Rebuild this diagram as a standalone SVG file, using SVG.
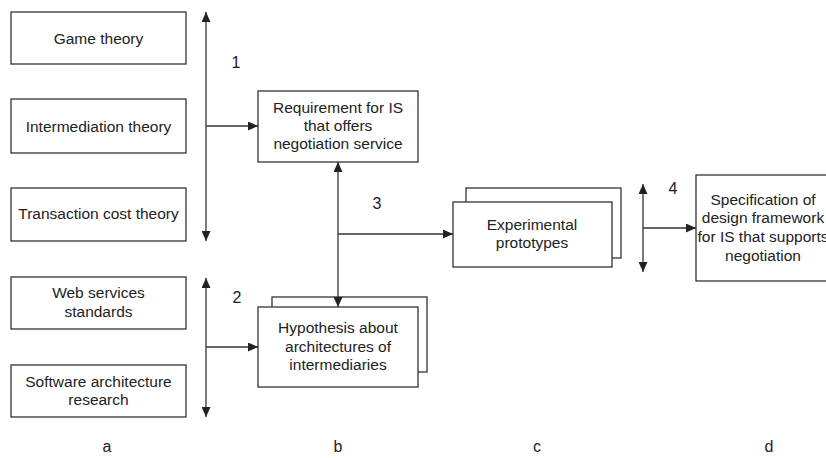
<svg xmlns="http://www.w3.org/2000/svg" width="826" height="458" viewBox="0 0 826 458">
  <style>
    .box { fill: #fff; stroke: #333; stroke-width: 1.3; }
    .line { fill: none; stroke: #333; stroke-width: 1.3; }
    text { font-family: "Liberation Sans", Arial, sans-serif; font-size: 15.5px; fill: #222; text-anchor: middle; }
    .num { font-size: 16px; }
  </style>
  <defs>
    <marker id="arrow" viewBox="0 0 10 10" refX="10" refY="5" markerWidth="10" markerHeight="9" markerUnits="userSpaceOnUse" orient="auto-start-reverse" preserveAspectRatio="none">
      <path d="M0,0 L10,5 L0,10 Z" fill="#222"/>
    </marker>
  </defs>
  <rect width="826" height="458" fill="#fff"/>

  <g id="game-theory">
    <rect class="box" x="11" y="12" width="175" height="52"/>
    <text x="98.5" y="43.5">Game theory</text>
  </g>
  <g id="intermediation-theory">
    <rect class="box" x="11" y="99" width="175" height="54"/>
    <text x="98.5" y="131.5">Intermediation theory</text>
  </g>
  <g id="transaction-cost-theory">
    <rect class="box" x="11" y="188" width="175" height="53"/>
    <text x="98.5" y="219">Transaction cost theory</text>
  </g>
  <g id="web-services-standards">
    <rect class="box" x="11" y="277" width="175" height="52"/>
    <text x="98.5" y="298">Web services</text>
    <text x="98.5" y="317">standards</text>
  </g>
  <g id="software-architecture-research">
    <rect class="box" x="11" y="365" width="175" height="52"/>
    <text x="98.5" y="387">Software architecture</text>
    <text x="98.5" y="405">research</text>
  </g>

  <g id="requirement">
    <rect class="box" x="258" y="91" width="160" height="71"/>
    <text x="338" y="113">Requirement for IS</text>
    <text x="338" y="131">that offers</text>
    <text x="338" y="149">negotiation service</text>
  </g>
  <g id="hypothesis">
    <rect class="box" x="272" y="297" width="155" height="75"/>
    <rect class="box" x="258" y="307" width="160" height="80"/>
    <text x="338" y="333">Hypothesis about</text>
    <text x="338" y="352">architectures of</text>
    <text x="338" y="370">intermediaries</text>
  </g>
  <g id="experimental-prototypes">
    <rect class="box" x="466" y="188" width="155" height="70"/>
    <rect class="box" x="453" y="202" width="159" height="65"/>
    <text x="532" y="230">Experimental</text>
    <text x="532" y="248">prototypes</text>
  </g>
  <g id="specification">
    <rect class="box" x="696" y="175" width="200" height="106"/>
    <text x="763" y="205">Specification of</text>
    <text x="763" y="223">design framework</text>
    <text x="763" y="242">for IS that supports</text>
    <text x="763" y="261">negotiation</text>
  </g>

  <g id="connectors">
    <line class="line" x1="206" y1="12" x2="206" y2="241" marker-start="url(#arrow)" marker-end="url(#arrow)"/>
    <line class="line" x1="206" y1="126" x2="258" y2="126" marker-end="url(#arrow)"/>
    <line class="line" x1="206" y1="278" x2="206" y2="417" marker-start="url(#arrow)" marker-end="url(#arrow)"/>
    <line class="line" x1="206" y1="347" x2="258" y2="347" marker-end="url(#arrow)"/>
    <line class="line" x1="338" y1="162" x2="338" y2="307" marker-start="url(#arrow)" marker-end="url(#arrow)"/>
    <line class="line" x1="338" y1="234" x2="453" y2="234" marker-end="url(#arrow)"/>
    <line class="line" x1="643" y1="184" x2="643" y2="272" marker-start="url(#arrow)" marker-end="url(#arrow)"/>
    <line class="line" x1="643" y1="228" x2="696" y2="228" marker-end="url(#arrow)"/>
    <text class="num" x="236" y="68">1</text>
    <text class="num" x="237" y="303">2</text>
    <text class="num" x="377" y="209">3</text>
    <text class="num" x="673" y="194">4</text>
  </g>

  <g id="column-labels">
    <text class="num" x="107" y="452">a</text>
    <text class="num" x="338" y="452">b</text>
    <text class="num" x="537" y="452">c</text>
    <text class="num" x="769" y="452">d</text>
  </g>
</svg>
